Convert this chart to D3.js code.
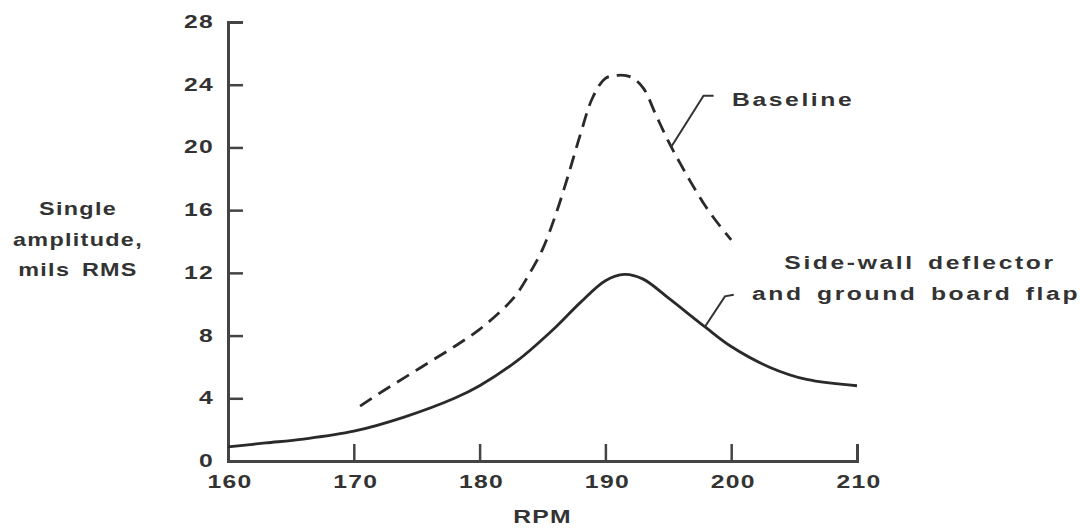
<!DOCTYPE html>
<html>
<head>
<meta charset="utf-8">
<script src="https://cdn.jsdelivr.net/npm/d3@7"></script>
<style>
  body { margin: 0; background: #fff; }
  text { font-family: "Liberation Sans", Arial, sans-serif; font-weight: bold; fill: #333; }
</style>
</head>
<body>
<div id="chart"></div>
<script>
// Baseline (dashed)
var baseRpm = [170.5, 172, 174, 176, 178, 180, 182, 183, 184, 185, 186, 187, 188, 189, 190, 191, 192, 193, 194, 195, 196, 197, 198, 199, 200];
var baseAmp = [3.5, 4.3, 5.3, 6.3, 7.3, 8.4, 9.8, 10.7, 12.0, 13.5, 15.6, 18.1, 20.8, 23.2, 24.4, 24.6, 24.5, 23.8, 22.1, 20.4, 18.9, 17.5, 16.2, 15.1, 14.1];

// Side-wall deflector and ground board flap (solid)
var flapRpm = [160, 163, 166, 170, 174, 178, 180, 183, 186, 188, 190, 191.5, 193, 195, 198, 200, 203, 206, 210];
var flapAmp = [0.9, 1.15, 1.4, 1.9, 2.8, 4.0, 4.8, 6.4, 8.5, 10.1, 11.5, 11.9, 11.6, 10.4, 8.5, 7.3, 6.0, 5.2, 4.8];

var xTicks = [160, 170, 180, 190, 200, 210];
var yTicks = [0, 4, 8, 12, 16, 20, 24, 28];

var width = 1080, height = 529;
var sx = 1.3; // the scan is stretched sideways

var svg = d3.select("#chart").append("svg")
    .attr("width", width)
    .attr("height", height);

var x = d3.scaleLinear().domain([160, 210]).range([228, 857]);
var y = d3.scaleLinear().domain([0, 28]).range([461, 22]);

function label(str, px, py, anchor, size, spacing) {
    return svg.append("text")
        .attr("transform", "translate(" + px + "," + py + ") scale(" + sx + ",1)")
        .attr("text-anchor", anchor || "middle")
        .style("font-size", (size || 19) + "px")
        .style("letter-spacing", (spacing || 1) + "px")
        .style("word-spacing", "3px")
        .text(str);
}

// Axes
var xAxis = svg.append("g")
    .attr("transform", "translate(0," + y(0) + ")")
    .call(d3.axisBottom(x).tickValues(xTicks.slice(1)).tickSize(-17).tickFormat(""));
var yAxis = svg.append("g")
    .attr("transform", "translate(" + x(160) + ",0)")
    .call(d3.axisLeft(y).tickValues(yTicks.slice(1)).tickSize(-15).tickFormat(""));

[xAxis, yAxis].forEach(function(a) {
    a.select(".domain").attr("stroke", "#444").attr("stroke-width", 3);
    a.selectAll(".tick line").attr("stroke", "#444").attr("stroke-width", 2.5);
});

xTicks.forEach(function(t) { label(t, x(t) + 2, y(0) + 27); });
yTicks.forEach(function(t) { label(t, x(160) - 14, y(t) + 6, "end"); });

label("RPM", x(185), 523);
label("Single", 78, 215, "middle", 18);
label("amplitude,", 78, 246, "middle", 18);
label("mils RMS", 78, 276, "middle", 18);

// Curves
var line = d3.line()
    .x(function(d) { return x(d[0]); })
    .y(function(d) { return y(d[1]); })
    .curve(d3.curveCatmullRom.alpha(0.5));

svg.append("path")
    .datum(d3.zip(baseRpm, baseAmp))
    .attr("d", line)
    .attr("fill", "none")
    .attr("stroke", "#2a2a2a")
    .attr("stroke-width", 2.8)
    .attr("stroke-dasharray", "14,8");

svg.append("path")
    .datum(d3.zip(flapRpm, flapAmp))
    .attr("d", line)
    .attr("fill", "none")
    .attr("stroke", "#2a2a2a")
    .attr("stroke-width", 2.8);

// Leader lines
var plain = d3.line()
    .x(function(d) { return x(d[0]); })
    .y(function(d) { return y(d[1]); });

svg.append("path")
    .datum([[195.2, 20.0], [197.8, 23.3], [198.6, 23.3]])
    .attr("d", plain)
    .attr("fill", "none").attr("stroke", "#333").attr("stroke-width", 2);

svg.append("path")
    .datum([[197.9, 8.55], [199.5, 10.5], [200.2, 10.6]])
    .attr("d", plain)
    .attr("fill", "none").attr("stroke", "#333").attr("stroke-width", 2);

label("Baseline", 732, 106, "start", 19, 2);
label("Side-wall deflector", 920, 269, "middle", 19, 2);
label("and ground board flap", 916, 300, "middle", 19, 2);
</script>
</body>
</html>
